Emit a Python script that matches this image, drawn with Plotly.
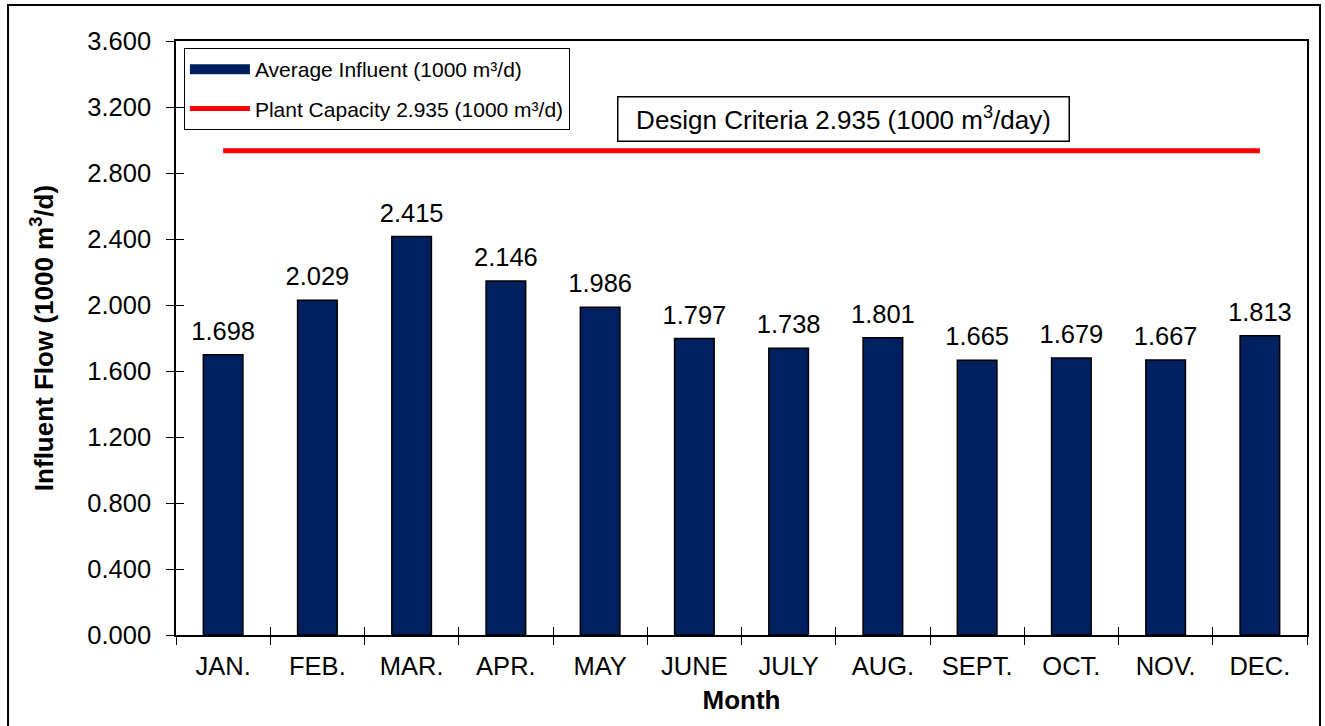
import plotly.graph_objects as go

months = ["JAN.", "FEB.", "MAR.", "APR.", "MAY", "JUNE", "JULY", "AUG.", "SEPT.", "OCT.", "NOV.", "DEC."]
avg_influent = [1.698, 2.029, 2.415, 2.146, 1.986, 1.797, 1.738, 1.801, 1.665, 1.679, 1.667, 1.813]
plant_capacity = [2.935] * len(months)

FONT = "Liberation Sans, Arial, sans-serif"
TICK_SIZE = 25.5
BAR_COLOR = "#002060"

fig = go.Figure()

fig.add_trace(go.Bar(
    x=months, y=avg_influent,
    name="Average Influent (1000 m³/d)",
    marker=dict(color=BAR_COLOR, line=dict(color="black", width=1.5)),
    width=0.42,
    showlegend=False,
    hoverinfo="x+y",
))

# legend-only entry drawn as a wide bar-like swatch
fig.add_trace(go.Scatter(
    x=[None], y=[None],
    mode="lines",
    name="Average Influent (1000 m³/d)",
    line=dict(color=BAR_COLOR, width=11),
    legendgroup="a",
    hoverinfo="skip",
))

fig.add_trace(go.Scatter(
    x=months, y=plant_capacity,
    mode="lines",
    name="Plant Capacity 2.935 (1000 m³/d)",
    line=dict(color="#ff0000", width=5),
    legendgroup="b",
))

# value labels above bars
fig.add_trace(go.Scatter(
    x=months, y=avg_influent,
    mode="markers+text",
    marker=dict(size=12, opacity=0),
    text=[f"{v:.3f}" for v in avg_influent],
    textposition="top center",
    textfont=dict(family=FONT, size=TICK_SIZE, color="black"),
    showlegend=False,
    hoverinfo="skip",
))

# invisible trace on overlay axes used to draw the inner half of cross tick marks
fig.add_trace(go.Scatter(
    x=months, y=avg_influent, xaxis="x2", yaxis="y2",
    mode="markers", marker=dict(opacity=0, size=1),
    showlegend=False, hoverinfo="skip",
))

fig.update_layout(
    width=1325, height=726,
    margin=dict(l=176, r=18, t=41, b=91),
    paper_bgcolor="white",
    plot_bgcolor="white",
    font=dict(family=FONT, color="black", size=TICK_SIZE),
    showlegend=True,
    legend=dict(
        x=0.007, y=0.988, xanchor="left", yanchor="top",
        bgcolor="white", bordercolor="black", borderwidth=1,
        font=dict(family=FONT, size=21, color="black"),
        traceorder="grouped", tracegroupgap=9, itemwidth=60,
    ),
    xaxis=dict(
        type="category", categoryorder="array", categoryarray=months,
        range=[-0.5, 11.5],
        tickson="boundaries", ticks="outside", ticklen=8, tickcolor="black", tickwidth=1,
        ticklabelstandoff=8,
        showline=True, linecolor="black", linewidth=1.5, mirror=True,
        showgrid=False, zeroline=False,
        tickfont=dict(family=FONT, size=TICK_SIZE, color="black"),
        title=dict(text="<b>Month</b>", font=dict(family=FONT, size=26, color="black"), standoff=11),
    ),
    yaxis=dict(
        range=[0, 3.6], dtick=0.4, tick0=0, tickformat=".3f",
        ticks="outside", ticklen=8, tickcolor="black", tickwidth=1,
        ticklabelstandoff=10,
        showline=True, linecolor="black", linewidth=1.5, mirror=True,
        showgrid=False, zeroline=False,
        tickfont=dict(family=FONT, size=TICK_SIZE, color="black"),
        title=dict(text="<b>Influent Flow (1000 m<sup>3</sup>/d)</b>", font=dict(family=FONT, size=26, color="black"), standoff=26),
    ),
    xaxis2=dict(
        overlaying="x", side="bottom",
        type="category", categoryorder="array", categoryarray=months,
        range=[-0.5, 11.5],
        tickson="boundaries", ticks="inside", ticklen=8, tickcolor="black", tickwidth=1,
        showticklabels=False, showline=False, showgrid=False, zeroline=False,
    ),
    yaxis2=dict(
        overlaying="y", side="left",
        range=[0, 3.6], dtick=0.4, tick0=0,
        ticks="inside", ticklen=8, tickcolor="black", tickwidth=1,
        showticklabels=False, showline=False, showgrid=False, zeroline=False,
    ),
    annotations=[dict(
        xref="paper", yref="paper", x=0.59, y=0.868,
        xanchor="center", yanchor="middle",
        text="Design Criteria 2.935 (1000 m<sup>3</sup>/day)",
        showarrow=False,
        font=dict(family=FONT, size=26, color="black"),
        bordercolor="black", borderwidth=1.5, borderpad=5,
        bgcolor="white", width=440,
    )],
    shapes=[dict(
        type="rect", xref="paper", yref="paper",
        x0=-0.1485, x1=1.0115, y0=-0.17, y1=1.0606,
        line=dict(color="black", width=2), fillcolor="rgba(0,0,0,0)", layer="above",
    )],
)

fig.write_html(
    "out.html",
    config={"displayModeBar": False},
    post_script="document.body.style.margin='0';document.body.style.padding='0';",
)
